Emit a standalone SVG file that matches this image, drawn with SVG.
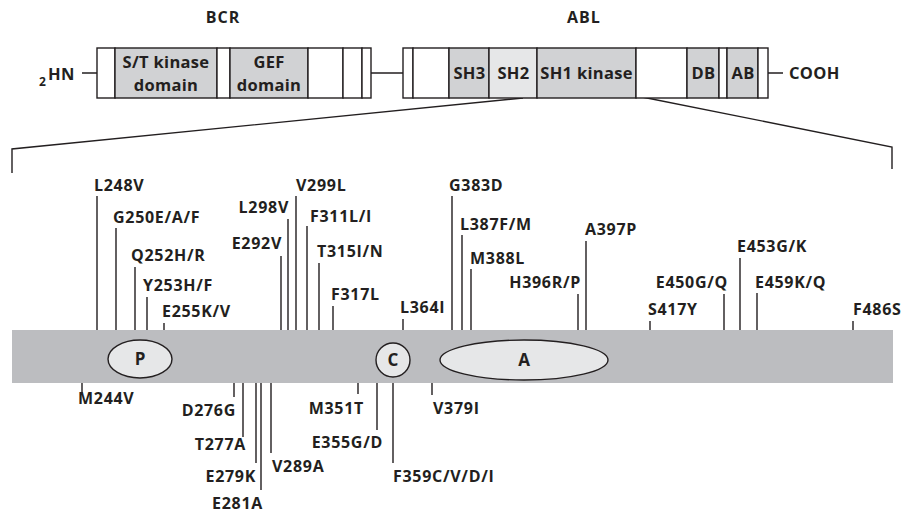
<svg xmlns="http://www.w3.org/2000/svg" width="903" height="513" viewBox="0 0 903 513">
<style>
text{font-family:"Open Sans","DejaVu Sans",sans-serif;font-weight:700;fill:#231f20}
.t{font-size:16px;letter-spacing:1px}
.b{font-size:16.5px;letter-spacing:0.3px}
.m{font-size:16px;letter-spacing:0.7px}
.k{font-size:17px}
.e{text-anchor:end}
.c{text-anchor:middle}
.ln{stroke:#231f20;stroke-width:1.4;fill:none}
.seg{stroke:#231f20;stroke-width:1.4}
.w{fill:#ffffff}
.g{fill:#d1d2d4}
.lg{fill:#e6e7e8}
</style>
<rect width="903" height="513" fill="#ffffff"/>
<text class="t c" x="223" y="23">BCR</text>
<text class="t c" x="584" y="23">ABL</text>
<g id="connectors">
<path class="ln" d="M82 73H97M371 73H403M768 73H783"/>
<polyline class="ln" points="12,173 12,149 523,98"/>
<polyline class="ln" points="642,97 892,147 892,169"/>
</g>
<g id="bcr">
<rect class="seg w" x="97" y="48" width="18" height="50"/>
<rect class="seg g" x="115" y="48" width="102" height="50"/>
<rect class="seg w" x="217" y="48" width="13" height="50"/>
<rect class="seg g" x="230" y="48" width="78" height="50"/>
<rect class="seg w" x="308" y="48" width="35" height="50"/>
<rect class="seg w" x="343" y="48" width="19" height="50"/>
<rect class="seg w" x="362" y="48" width="9" height="50"/>
<text class="b c" x="166" y="68">S/T kinase</text>
<text class="b c" x="166" y="91">domain</text>
<text class="b c" x="269" y="68">GEF</text>
<text class="b c" x="269" y="91">domain</text>
<text class="b" x="48" y="80">HN</text>
<text class="b" x="39" y="86" style="font-size:12px">2</text>
</g>
<g id="abl">
<rect class="seg w" x="403" y="48" width="10" height="50"/>
<rect class="seg w" x="413" y="48" width="36" height="50"/>
<rect class="seg g" x="449" y="48" width="40" height="50"/>
<rect class="seg lg" x="489" y="48" width="48" height="50"/>
<rect class="seg g" x="537" y="48" width="99" height="50"/>
<rect class="seg w" x="636" y="48" width="51" height="50"/>
<rect class="seg g" x="687" y="48" width="32" height="50"/>
<rect class="seg w" x="719" y="48" width="8" height="50"/>
<rect class="seg g" x="727" y="48" width="31" height="50"/>
<rect class="seg w" x="758" y="48" width="10" height="50"/>
<text class="b c" x="469.5" y="79">SH3</text>
<text class="b c" x="513.5" y="79">SH2</text>
<text class="b c" x="586.5" y="79">SH1 kinase</text>
<text class="b c" x="703.5" y="79">DB</text>
<text class="b c" x="743" y="79">AB</text>
<text class="b" x="789" y="79">COOH</text>
</g>
<g id="kinase-bar">
<rect x="12" y="330" width="881" height="53" fill="#bcbdc0"/>
<ellipse class="seg lg" cx="140" cy="359" rx="32" ry="19"/>
<text class="k c" x="140" y="365">P</text>
<circle class="seg lg" cx="393" cy="360" r="17"/>
<text class="k c" x="393" y="366">C</text>
<ellipse class="seg lg" cx="524" cy="360" rx="84" ry="20"/>
<text class="k c" x="524" y="366">A</text>
</g>
<g id="mutation-ticks">
<path class="ln" d="M97 196V330M116 228V330M135 267V330M147 297V330M164 323V330M281 256V330M288 219V330M296 196V330M307 226V330M319 263V330M333 306V330M403 319V330M452 196V330M462 235V330M471 269V330M578 294V330M586 241V330M650 321V330M724 294V330M740 258V330M757 293V330M853 321V330"/>
<path class="ln" d="M82 383V393M234 383V397M243 383V437M256 383V463M261 383V490M271 383V453M358 383V394M377 383V430M393 383V463M432 383V395"/>
</g>
<g id="mutation-labels">
<text class="m" x="94" y="191">L248V</text>
<text class="m" x="113" y="223">G250E/A/F</text>
<text class="m" x="131" y="261">Q252H/R</text>
<text class="m" x="143" y="291">Y253H/F</text>
<text class="m" x="162" y="317">E255K/V</text>
<text class="m e" x="282" y="249">E292V</text>
<text class="m e" x="289" y="213">L298V</text>
<text class="m" x="296" y="191">V299L</text>
<text class="m" x="310" y="222">F311L/I</text>
<text class="m" x="317" y="257">T315I/N</text>
<text class="m" x="331" y="300">F317L</text>
<text class="m" x="400" y="313">L364I</text>
<text class="m" x="449" y="191">G383D</text>
<text class="m" x="460" y="230">L387F/M</text>
<text class="m" x="470" y="264">M388L</text>
<text class="m e" x="581" y="288">H396R/P</text>
<text class="m" x="585" y="235">A397P</text>
<text class="m" x="648" y="315">S417Y</text>
<text class="m e" x="728" y="288">E450G/Q</text>
<text class="m" x="737" y="252">E453G/K</text>
<text class="m" x="755" y="288">E459K/Q</text>
<text class="m" x="853" y="315">F486S</text>
<text class="m" x="78" y="404">M244V</text>
<text class="m e" x="236" y="416">D276G</text>
<text class="m e" x="246" y="450">T277A</text>
<text class="m e" x="256" y="482">E279K</text>
<text class="m e" x="263" y="509">E281A</text>
<text class="m" x="272" y="472">V289A</text>
<text class="m e" x="364" y="414">M351T</text>
<text class="m e" x="383" y="448">E355G/D</text>
<text class="m" x="393" y="482">F359C/V/D/I</text>
<text class="m" x="433" y="414">V379I</text>
</g>
</svg>
